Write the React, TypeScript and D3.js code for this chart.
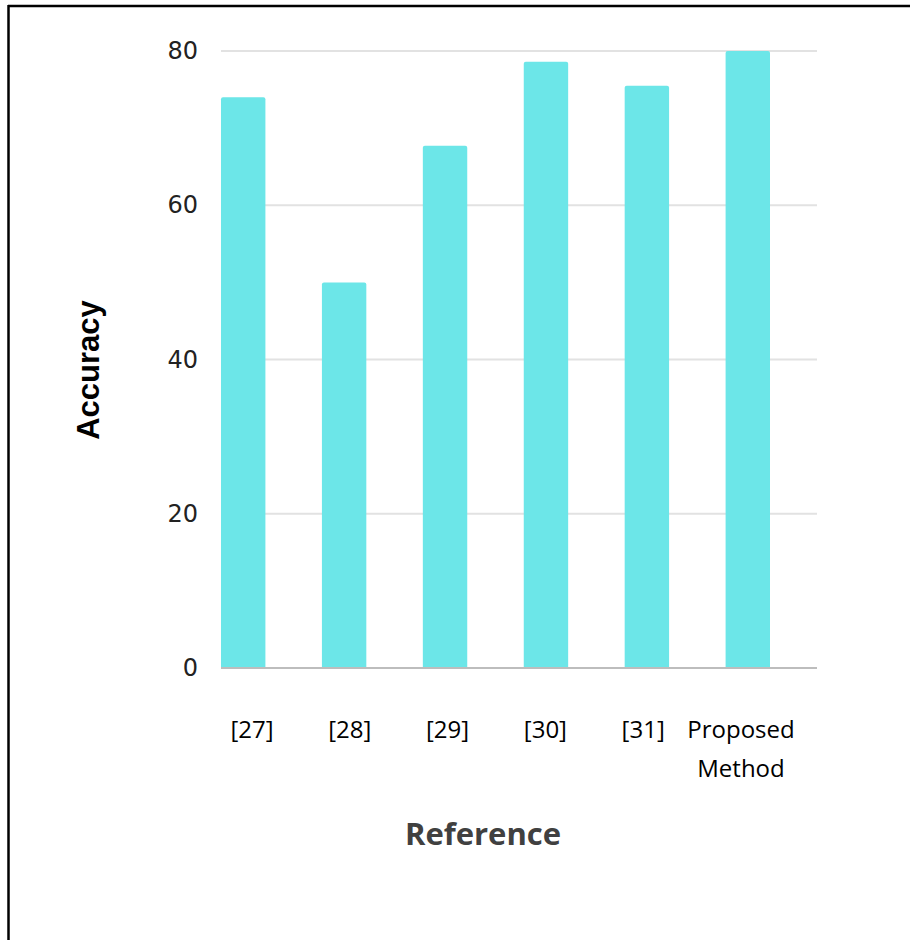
import * as d3 from 'd3';

const categories = ['[27]', '[28]', '[29]', '[30]', '[31]', 'Proposed Method'];
const accuracy = [74, 50, 67.7, 78.6, 75.5, 80];
const yTicks = [0, 20, 40, 60, 80];

const W = 910;
const H = 940;

export default function App() {
  const x = d3.scaleBand<string>()
    .domain(categories)
    .range([221, 770])
    .paddingInner(0.56)
    .paddingOuter(0);

  // category labels sit a little apart from the bars in the original
  const xLabel = d3.scalePoint<string>()
    .domain(categories)
    .range([252, 741]);

  const y = d3.scaleLinear()
    .domain([0, 80])
    .range([668, 51]);

  const gridX0 = 221;
  const gridX1 = 817;

  return (
    <svg width={W} height={H} style={{ position: 'absolute', left: 0, top: 0, background: '#fff' }}>
      {/* frame */}
      <line x1={8} x2={W} y1={6} y2={6} stroke="#000" strokeWidth={2.5} />
      <line x1={8.5} x2={8.5} y1={5} y2={H} stroke="#000" strokeWidth={2.5} />

      {/* grid */}
      {yTicks.filter((t) => t > 0).map((t) => (
        <line key={t} x1={gridX0} x2={gridX1} y1={y(t)} y2={y(t)} stroke="#e2e2e2" strokeWidth={2} />
      ))}

      {/* y tick labels */}
      {yTicks.map((t) => (
        <text
          key={t}
          x={198}
          y={y(t)}
          textAnchor="end"
          dominantBaseline="central"
          fontFamily="DejaVu Sans"
          fontSize={24}
          fill="#222"
        >
          {t}
        </text>
      ))}

      {/* bars */}
      {categories.map((c, i) => (
        <path
          key={c}
          d={`M${x(c)!},${y(0)} V${y(accuracy[i]) + 2} Q${x(c)!},${y(accuracy[i])} ${x(c)! + 2},${y(accuracy[i])} H${x(c)! + x.bandwidth() - 2} Q${x(c)! + x.bandwidth()},${y(accuracy[i])} ${x(c)! + x.bandwidth()},${y(accuracy[i]) + 2} V${y(0)} Z`}
          fill="#6ce6e8"
        />
      ))}

      {/* baseline */}
      <line x1={gridX0} x2={gridX1} y1={y(0)} y2={y(0)} stroke="#bdbdbd" strokeWidth={2} />

      {/* x labels */}
      {categories.map((c) => {
        const words = c.split(' ');
        return (
          <text
            key={c}
            x={xLabel(c)}
            y={738}
            textAnchor="middle"
            fontFamily="Open Sans"
            fontSize={24}
            fill="#000"
          >
            {words.map((w, j) => (
              <tspan key={w} x={xLabel(c)} dy={j === 0 ? 0 : 39}>{w}</tspan>
            ))}
          </text>
        );
      })}

      {/* axis titles */}
      <text
        transform={`translate(99, ${370}) rotate(-90)`}
        textAnchor="middle"
        fontFamily="Liberation Sans"
        fontWeight="bold"
        fontSize={31}
        fill="#000"
      >
        Accuracy
      </text>
      <text
        x={483}
        y={845}
        textAnchor="middle"
        fontFamily="Open Sans"
        fontWeight="bold"
        fontSize={31}
        fill="#404040"
      >
        Reference
      </text>
    </svg>
  );
}
